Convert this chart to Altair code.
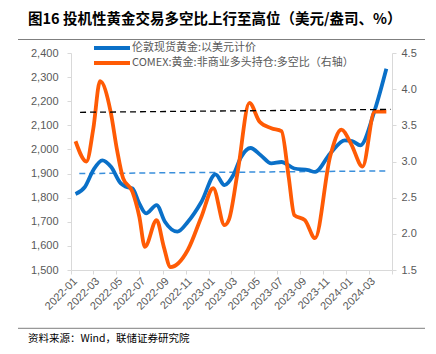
import altair as alt
import pandas as pd

# ---- data ----
gold_dates = ["2022/01/13", "2022/02/07", "2022/03/01", "2022/03/25", "2022/04/17", "2022/05/13",
              "2022/05/27", "2022/06/13", "2022/07/01", "2022/07/19", "2022/08/16", "2022/09/07",
              "2022/10/10", "2022/11/07", "2022/12/13", "2023/01/19", "2023/02/12", "2023/03/07",
              "2023/03/28", "2023/04/22", "2023/05/19", "2023/06/16", "2023/07/13", "2023/08/16",
              "2023/09/22", "2023/10/10", "2023/11/19", "2023/12/28", "2024/01/16", "2024/02/07",
              "2024/03/16", "2024/04/16"]
gold_price = [1815, 1845, 1914, 1955, 1928, 1859, 1845, 1838, 1776, 1735, 1769, 1700,
              1659, 1700, 1783, 1897, 1852, 1893, 1969, 2006, 1976, 1942, 1948, 1921,
              1914, 1907, 1983, 2038, 2035, 2017, 2162, 2335]

ratio_dates = ["2022/01/13", "2022/02/11", "2022/03/01", "2022/03/19", "2022/04/16", "2022/05/03",
               "2022/05/19", "2022/06/13", "2022/07/01", "2022/07/16", "2022/08/16", "2022/09/04",
               "2022/09/22", "2022/11/07", "2022/12/13", "2023/01/13", "2023/02/12", "2023/02/24",
               "2023/03/19", "2023/04/19", "2023/05/16", "2023/06/16", "2023/07/13", "2023/08/01",
               "2023/08/16", "2023/09/13", "2023/10/10", "2023/11/19", "2023/12/19", "2024/01/13",
               "2024/02/13", "2024/03/16", "2024/04/16"]
ratio_vals = [3.28, 3.00, 3.45, 4.11, 3.69, 3.16, 2.77, 2.58, 2.24, 1.82, 2.19, 1.82,
              1.54, 1.78, 2.24, 2.63, 2.12, 2.20, 2.86, 3.81, 3.55, 3.46, 3.42, 2.79,
              2.26, 2.19, 1.94, 3.07, 3.44, 3.25, 2.93, 3.69, 3.69]

blue_ref_dates = ["2022/01/23", "2024/04/19"]
blue_ref_vals = [1900, 1911]
black_ref_dates = ["2022/01/25", "2024/04/27"]
black_ref_vals = [3.68, 3.72]

tick_months = [(2022, 1), (2022, 3), (2022, 5), (2022, 7), (2022, 9), (2022, 11),
               (2023, 1), (2023, 3), (2023, 5), (2023, 7), (2023, 9), (2023, 11),
               (2024, 1), (2024, 3), (2024, 5)]
left_ticks = [1500, 1600, 1700, 1800, 1900, 2000, 2100, 2200, 2300, 2400]
right_ticks = [1.5, 2.0, 2.5, 3.0, 3.5, 4.0, 4.5]

title_text = "图16 投机性黄金交易多空比上行至高位（美元/盎司、%）"
source_text = "资料来源：Wind，联储证券研究院"
legend_labels = ["伦敦现货黄金:以美元计价", "COMEX:黄金:非商业多头持仓:多空比（右轴）"]

BLUE = "#0A70C8"
ORANGE = "#FF5B05"
GRAY = "#595959"
AXIS_GRAY = "#D9D9D9"
FONT = "Liberation Sans"
CJK = "Noto Sans CJK SC"

gold_df = pd.DataFrame({"date": gold_dates, "v": gold_price})
ratio_df = pd.DataFrame({"date": ratio_dates, "v": ratio_vals})
bref_df = pd.DataFrame({"date": blue_ref_dates, "v": blue_ref_vals})
kref_df = pd.DataFrame({"date": black_ref_dates, "v": black_ref_vals})

xscale = alt.Scale(domain=[alt.DateTime(year=2022, month=1, date=1),
                           alt.DateTime(year=2024, month=5, date=1)])
xaxis = alt.Axis(
    values=[alt.DateTime(year=y, month=m, date=1) for y, m in tick_months],
    format="%Y-%m",
    labelExpr="datum.value > time(datetime(2024, 3, 20)) ? '' : datum.label",
    labelAngle=-45, labelAlign="right", labelBaseline="top",
    labelFont=FONT, labelFontSize=11, labelColor=GRAY, labelPadding=1,
    tickSize=4, tickColor=AXIS_GRAY, domainColor=AXIS_GRAY, grid=False,
    title=None, labelOverlap=False, labelFlush=False,
)
X = alt.X("date:T", scale=xscale, axis=xaxis)

left_scale = alt.Scale(domain=[1500, 2400], nice=False, zero=False)
left_axis = alt.Axis(orient="left", values=left_ticks, format=",.0f", labelFont=FONT,
                     labelFontSize=11, labelColor=GRAY, labelPadding=9, tickSize=4,
                     tickColor=AXIS_GRAY, domainColor=AXIS_GRAY, grid=False, title=None)
right_scale = alt.Scale(domain=[1.5, 4.5], nice=False, zero=False)
right_axis = alt.Axis(orient="right", values=right_ticks, format=".1f", labelFont=FONT,
                      labelFontSize=11, labelColor=GRAY, labelPadding=5, tickSize=4,
                      tickColor=AXIS_GRAY, domainColor=AXIS_GRAY, grid=False, title=None)

blue_line = alt.Chart(gold_df).mark_line(color=BLUE, strokeWidth=3.8, interpolate="monotone").encode(
    x=X, y=alt.Y("v:Q", scale=left_scale, axis=left_axis))
blue_ref = alt.Chart(bref_df).mark_line(color="#3A8FDB", strokeWidth=1.5, strokeDash=[6, 4]).encode(
    x=X, y=alt.Y("v:Q", scale=left_scale, axis=left_axis))
left = alt.layer(blue_ref, blue_line)

orange_line = alt.Chart(ratio_df).mark_line(color=ORANGE, strokeWidth=3.8, interpolate="monotone").encode(
    x=X, y=alt.Y("v:Q", scale=right_scale, axis=right_axis))
black_ref = alt.Chart(kref_df).mark_line(color="#000000", strokeWidth=1.3, strokeDash=[6, 4]).encode(
    x=X, y=alt.Y("v:Q", scale=right_scale, axis=right_axis))
right = alt.layer(orange_line, black_ref)

one = pd.DataFrame({"k": [0]})
title = alt.Chart(one).mark_text(text=title_text, font=CJK, fontSize=14.5, fontWeight="bold",
                                 color="#000000", align="left", baseline="middle").encode(
    x=alt.value(-43), y=alt.value(-33))
head_rule = alt.Chart(one).mark_rule(color="#7F7F7F", strokeWidth=1).encode(
    x=alt.value(-53), x2=alt.value(354), y=alt.value(-13.5))
foot_rule = alt.Chart(one).mark_rule(color="#7F7F7F", strokeWidth=1).encode(
    x=alt.value(-53), x2=alt.value(354), y=alt.value(275.3))
source = alt.Chart(one).mark_text(text=source_text, font=CJK, fontSize=10.5, color="#000000",
                                  align="left", baseline="middle").encode(
    x=alt.value(-43), y=alt.value(286.3))
leg1_line = alt.Chart(one).mark_rule(color=BLUE, strokeWidth=4).encode(
    x=alt.value(23), x2=alt.value(59), y=alt.value(-5))
leg2_line = alt.Chart(one).mark_rule(color=ORANGE, strokeWidth=4).encode(
    x=alt.value(23), x2=alt.value(59), y=alt.value(10))
leg1_text = alt.Chart(one).mark_text(text=legend_labels[0], font=CJK, fontSize=11, color=GRAY,
                                     align="left", baseline="middle").encode(
    x=alt.value(61), y=alt.value(-5))
leg2_text = alt.Chart(one).mark_text(text=legend_labels[1], font=CJK, fontSize=11, color=GRAY,
                                     align="left", baseline="middle").encode(
    x=alt.value(61), y=alt.value(10))

chart = alt.layer(left, right, title, head_rule, foot_rule, source,
                  leg1_line, leg2_line, leg1_text, leg2_text).resolve_scale(
    y="independent").properties(
    width=321, height=217,
    autosize=alt.AutoSizeParams(type="none"),
    padding={"left": 71, "top": 53, "right": 44, "bottom": 84},
    background="#FFFFFF",
).configure_view(stroke=None)

chart.save("out.html", embed_options={"renderer": "svg", "actions": False})
